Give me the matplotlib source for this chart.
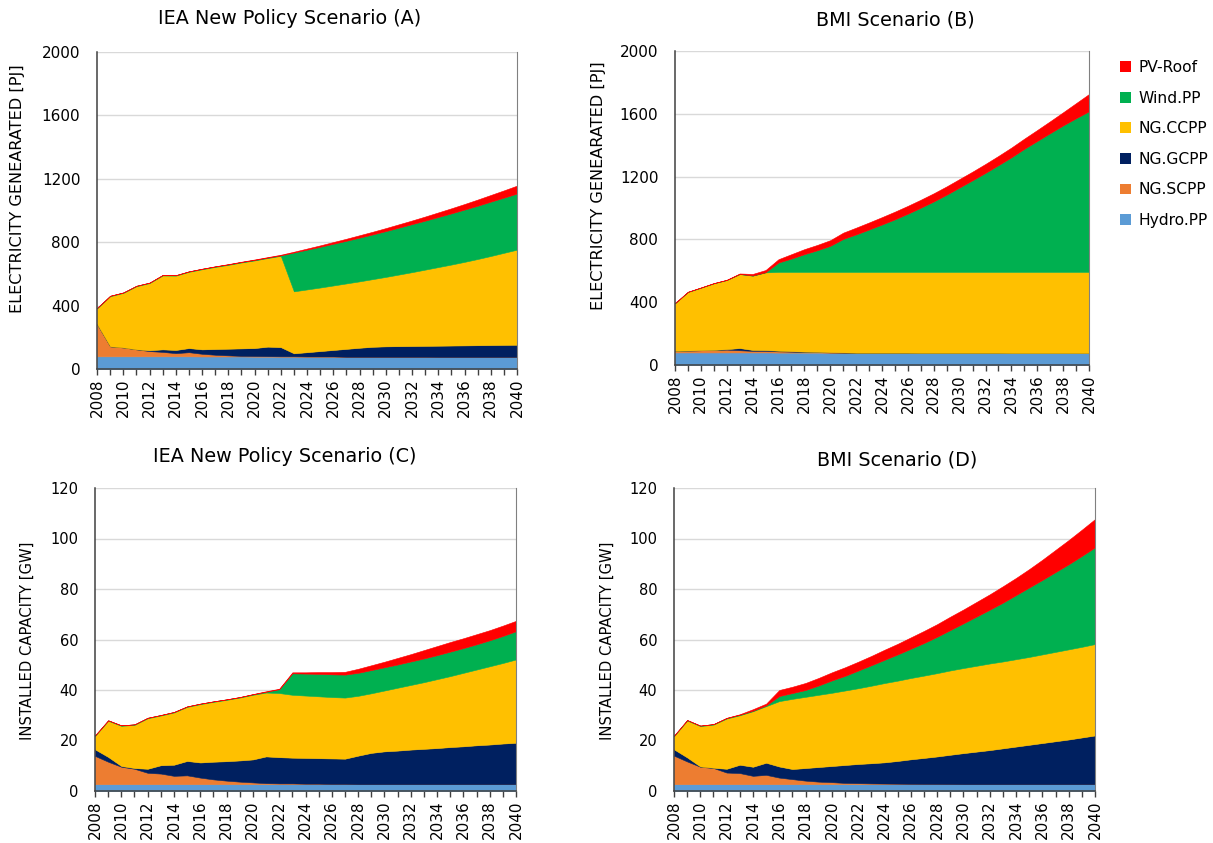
import matplotlib
matplotlib.use("Agg")
import matplotlib.pyplot as plt
from matplotlib.patches import Patch
from matplotlib.ticker import MultipleLocator

plt.rcParams["font.family"] = ["DejaVu Sans"]

years = list(range(2008, 2041))

# ---------------- Electricity generated [PJ] ----------------
hydro_pj = [80, 80, 80, 80, 80, 80, 80, 80, 79, 79, 79, 79, 78, 78, 78, 78, 78,
            78, 78, 77, 77, 77, 77, 77, 77, 77, 76, 76, 76, 76, 76, 76, 76]

# (A) IEA New Policy Scenario
scpp_a = [204, 63, 56, 44, 33, 28, 20, 26, 17, 11, 7, 4, 4, 3, 2, 2, 1, 1, 1,
          0, 0, 0, 0, 0, 0, 0, 0, 0, 0, 0, 0, 0, 0]
gcpp_a = [0, 0, 0, 0, 5, 16, 20, 26, 28, 36, 42, 47, 50, 60, 58, 19, 27, 34, 41,
          50, 57, 63, 66, 67, 68, 69, 71, 72, 73, 74, 75, 76, 77]
ccpp_a = [98, 316, 344, 398, 424, 466, 469, 481, 505, 518, 529, 542, 553, 559,
          576, 391, 396, 401, 407, 413, 419, 427, 438, 452, 466, 481, 496, 511,
          527, 544, 562, 581, 600]
wind_a = [3, 3, 3, 3, 3, 3, 3, 3, 3, 3, 3, 3, 3, 3, 3, 245, 251, 257, 263, 269,
          276, 282, 289, 296, 303, 309, 316, 323, 330, 336, 343, 348, 354]
pv_a = [0, 0, 0, 0, 0, 0, 0, 0, 1, 1, 2, 2, 3, 3, 4, 5, 7, 9, 11, 13, 15, 17,
        19, 21, 23, 26, 29, 32, 35, 39, 42, 46, 50]

# (B) BMI Scenario
scpp_b = [10, 12, 14, 16, 18, 14, 10, 10, 8, 6, 4, 3, 2, 1, 0, 0, 0, 0, 0, 0,
          0, 0, 0, 0, 0, 0, 0, 0, 0, 0, 0, 0, 0]
gcpp_b = [0, 0, 0, 0, 3, 14, 6, 5, 4, 3, 2, 2, 1, 1, 0, 0, 0, 0, 0, 0, 0, 0,
          0, 0, 0, 0, 0, 0, 0, 0, 0, 0, 0]
ccpp_b = [303, 373, 398, 424, 440, 471, 473, 495, 502, 505, 508, 509, 512, 513,
          515, 515, 515, 515, 515, 516, 516, 516, 516, 516, 516, 516, 517, 517,
          517, 517, 517, 517, 517]
wind_b = [1, 1, 1, 1, 1, 1, 1, 1, 60, 85, 113, 138, 166, 210, 239, 270, 302,
          335, 371, 409, 449, 492, 538, 584, 631, 680, 730, 784, 834, 884, 933,
          979, 1023]
pv_b = [1, 1, 1, 1, 1, 3, 10, 14, 21, 28, 32, 34, 36, 40, 43, 45, 47, 49, 50,
        51, 52, 53, 54, 55, 57, 59, 62, 65, 70, 76, 84, 96, 110]

# ---------------- Installed capacity [GW] ----------------
hydro_gw = [2.7, 2.7, 2.7, 2.7, 2.7, 2.7, 2.7, 2.7, 2.7, 2.7, 2.7, 2.7, 2.7,
            2.7, 2.7, 2.7, 2.7, 2.7, 2.7, 2.7, 2.7, 2.7, 2.7, 2.7, 2.7, 2.7,
            2.7, 2.7, 2.7, 2.7, 2.7, 2.7, 2.7]

# (C) IEA New Policy Scenario
scpp_c = [11.2, 8.9, 6.9, 6.1, 4.5, 4.2, 3.3, 3.5, 2.6, 1.9, 1.4, 1.0, 0.7, 0.4,
          0.3, 0.3, 0.2, 0.2, 0.1, 0.1, 0, 0, 0, 0, 0, 0, 0, 0, 0, 0, 0, 0, 0]
gcpp_c = [2.6, 1.9, 0.3, 0.3, 1.6, 3.3, 4.4, 5.7, 6.0, 7.0, 7.7, 8.4, 9.1, 10.6,
          10.4, 10.2, 10.2, 10.1, 10.1, 10.0, 11.3, 12.4, 13.0, 13.3, 13.7, 14.0,
          14.3, 14.7, 15.0, 15.4, 15.7, 16.1, 16.4]
ccpp_c = [5.3, 14.3, 15.9, 17.1, 20.0, 19.7, 20.7, 21.4, 23.1, 23.7, 24.3, 24.9,
          25.6, 25.3, 25.4, 24.9, 24.7, 24.5, 24.3, 24.2, 23.7, 23.6, 24.1, 24.9,
          25.6, 26.4, 27.3, 28.1, 29.1, 30.0, 31.0, 31.9, 33.0]
wind_c = [0.2, 0.2, 0.2, 0.2, 0.2, 0.2, 0.2, 0.2, 0.2, 0.2, 0.2, 0.2, 0.2, 0.3,
          1.5, 8.5, 8.7, 8.9, 9.0, 9.1, 9.1, 9.2, 9.2, 9.2, 9.3, 9.4, 9.5, 9.7,
          9.8, 10.0, 10.3, 10.7, 11.2]
pv_c = [0, 0, 0, 0, 0, 0, 0, 0, 0, 0, 0, 0, 0.1, 0.2, 0.2, 0.4, 0.5, 0.7, 0.9,
        1.1, 1.6, 1.9, 2.2, 2.6, 2.9, 3.3, 3.6, 3.8, 3.9, 4.0, 4.0, 4.1, 4.1]

# (D) BMI Scenario
scpp_d = [11.3, 9.0, 6.9, 6.4, 4.6, 4.4, 3.3, 3.7, 2.6, 2.0, 1.4, 1.0, 0.8, 0.5,
          0.4, 0.3, 0.25, 0.2, 0.15, 0.1, 0.08, 0.05, 0, 0, 0, 0, 0, 0, 0, 0, 0,
          0, 0]
gcpp_d = [2.5, 1.6, 0.1, 0.1, 1.5, 3.3, 3.6, 4.8, 4.4, 4.0, 5.0, 5.8, 6.4, 7.1,
          7.6, 8.0, 8.4, 9.0, 9.7, 10.3, 10.9, 11.6, 12.3, 12.9, 13.5, 14.2,
          14.9, 15.6, 16.3, 17.0, 17.7, 18.5, 19.3]
ccpp_d = [5.2, 14.6, 16.0, 17.1, 19.9, 19.6, 22.0, 22.4, 25.9, 27.8, 28.2, 28.6,
          29.0, 29.5, 30.0, 30.7, 31.4, 31.8, 32.2, 32.6, 33.0, 33.4, 33.7, 34.0,
          34.3, 34.4, 34.6, 34.8, 35.1, 35.4, 35.7, 35.9, 36.2]
wind_d = [0.2, 0.2, 0.2, 0.2, 0.2, 0.2, 0.2, 0.3, 2.0, 2.3, 2.7, 3.7, 4.9, 5.8,
          7.0, 8.1, 9.2, 10.4, 11.6, 12.9, 14.4, 16.0, 17.7, 19.5, 21.3, 23.3,
          25.4, 27.5, 29.5, 31.6, 33.7, 36.0, 38.3]
pv_d = [0, 0, 0, 0, 0.1, 0.2, 0.6, 0.7, 2.4, 2.5, 2.8, 3.0, 3.2, 3.4, 3.5, 3.7,
        4.0, 4.2, 4.5, 4.8, 5.0, 5.3, 5.5, 5.8, 6.1, 6.5, 6.8, 7.3, 8.0, 8.8,
        9.6, 10.4, 11.2]

tech_names = ["Hydro.PP", "NG.SCPP", "NG.GCPP", "NG.CCPP", "Wind.PP", "PV-Roof"]
tech_colors = ["#5B9BD5", "#ED7D31", "#002060", "#FFC000", "#00B050", "#FF0000"]

W, H = 1213, 843
fig = plt.figure(figsize=(W / 100, H / 100), dpi=100)


def box(l, t, r, b):
    return [l / W, 1 - b / H, (r - l) / W, (b - t) / H]


def panel(rect, series, ymax, ystep, ytick_size):
    ax = fig.add_axes(rect)
    polys = ax.stackplot(years, *series, colors=tech_colors, zorder=2)
    for p in polys:
        p.set_edgecolor(p.get_facecolor())
        p.set_linewidth(0.4)
    ax.set_xlim(2008, 2040)
    ax.set_ylim(0, ymax)
    ax.xaxis.set_major_locator(MultipleLocator(2))
    ax.xaxis.set_minor_locator(MultipleLocator(1))
    ax.yaxis.set_major_locator(MultipleLocator(ystep))
    ax.tick_params(axis="x", which="both", direction="out", length=4.5,
                   width=1, color="#404040", pad=2, labelsize=11, rotation=90)
    ax.tick_params(axis="y", length=0, pad=12, labelsize=ytick_size)
    ax.grid(axis="y", color="#D9D9D9", linewidth=1, zorder=0)
    ax.set_axisbelow(True)
    for side in ("left", "bottom"):
        ax.spines[side].set_color("#404040")
        ax.spines[side].set_linewidth(1.1)
    ax.spines["top"].set_visible(False)
    ax.spines["right"].set_color("#808080")
    ax.spines["right"].set_linewidth(0.8)
    return ax


panel(box(97, 52, 517, 369), [hydro_pj, scpp_a, gcpp_a, ccpp_a, wind_a, pv_a], 2000, 400, 11)
panel(box(675, 51, 1089, 365), [hydro_pj, scpp_b, gcpp_b, ccpp_b, wind_b, pv_b], 2000, 400, 11)
panel(box(95, 488, 516, 791), [hydro_gw, scpp_c, gcpp_c, ccpp_c, wind_c, pv_c], 120, 20, 10.5)
panel(box(674, 488, 1095, 791), [hydro_gw, scpp_d, gcpp_d, ccpp_d, wind_d, pv_d], 120, 20, 10.5)

title_kw = dict(ha="center", va="center", fontsize=13.8)
fig.text(290 / W, 1 - 18 / H, "IEA New Policy Scenario (A)", **title_kw)
fig.text(895 / W, 1 - 20 / H, "BMI Scenario (B)", **title_kw)
fig.text(285 / W, 1 - 457 / H, "IEA New Policy Scenario (C)", **title_kw)
fig.text(897 / W, 1 - 460 / H, "BMI Scenario (D)", **title_kw)

ylab_top = dict(ha="center", va="center", rotation=90, fontsize=11.6)
ylab_bot = dict(ha="center", va="center", rotation=90, fontsize=10.6)
fig.text(18 / W, 1 - 189 / H, "ELECTRICITY GENEARATED [PJ]", **ylab_top)
fig.text(598 / W, 1 - 186 / H, "ELECTRICITY GENEARATED [PJ]", **ylab_top)
fig.text(27 / W, 1 - 641 / H, "INSTALLED CAPACITY [GW]", **ylab_bot)
fig.text(607 / W, 1 - 641 / H, "INSTALLED CAPACITY [GW]", **ylab_bot)

handles = [Patch(facecolor=c, edgecolor="none", label=n)
           for n, c in zip(tech_names[::-1], tech_colors[::-1])]
fig.legend(handles=handles, loc="upper left", bbox_to_anchor=(1114 / W, 1 - 54 / H),
           frameon=False, fontsize=11.2, handlelength=0.7, handleheight=0.7,
           handletextpad=0.5, labelspacing=1.0, borderaxespad=0)

fig.savefig("out.png", dpi=100)
